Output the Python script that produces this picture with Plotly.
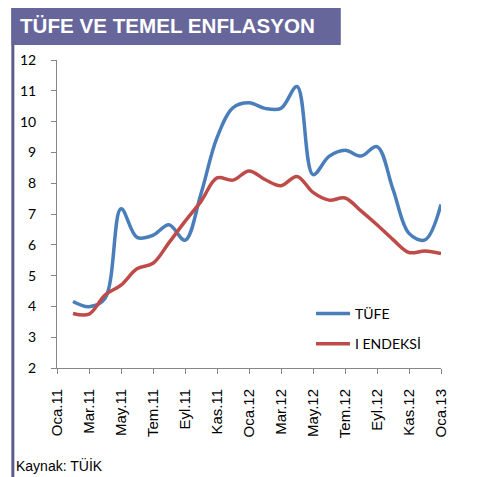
import plotly.graph_objects as go

months = ["Oca.11", "Şub.11", "Mar.11", "Nis.11", "May.11", "Haz.11", "Tem.11", "Ağu.11",
          "Eyl.11", "Eki.11", "Kas.11", "Ara.11", "Oca.12", "Şub.12", "Mar.12", "Nis.12",
          "May.12", "Haz.12", "Tem.12", "Ağu.12", "Eyl.12", "Eki.12", "Kas.12", "Ara.12",
          "Oca.13"]
tufe = [None, 4.16, 3.99, 4.26, 7.17, 6.24, 6.31, 6.65, 6.15, 7.66, 9.48, 10.45, 10.61,
        10.43, 10.43, 11.14, 8.28, 8.87, 9.07, 8.88, 9.19, 7.80, 6.37, 6.16, 7.31]
i_endeksi = [None, 3.77, 3.75, 4.37, 4.69, 5.22, 5.40, 6.07, 6.76, 7.41, 8.17, 8.10, 8.40,
             8.12, 7.92, 8.22, 7.70, 7.45, 7.52, 7.10, 6.65, 6.17, 5.75, 5.80, 5.72]

# page body has an 8px margin, so the figure is drawn 8px in from the window corner
OFF = 8
W, H = 482 - OFF, 477 - OFF
L, R, T, B = 54 - OFF, 41, 60 - OFF, 109
pw, ph = W - L - R, H - T - B


def px(x):
    return (x - OFF - L) / pw


def py(y):
    return (H - B - (y - OFF)) / ph


fig = go.Figure()
fig.add_trace(go.Scatter(x=months, y=tufe, name="TÜFE", mode="lines",
                         line=dict(color="#4A7EBB", width=3.5, shape="spline", smoothing=1),
                         legendgroup="a"))
fig.add_trace(go.Scatter(x=months, y=i_endeksi, name="I ENDEKSİ", mode="lines",
                         line=dict(color="#BE4B48", width=3.5, shape="spline", smoothing=1),
                         legendgroup="b"))

purple = "#67669A"
fig.add_shape(type="line", xref="paper", yref="paper", x0=px(9.5), x1=px(9.5), y0=py(7), y1=py(480),
              line=dict(color="#5F5A8E", width=3))
fig.add_shape(type="line", xref="paper", yref="paper", x0=px(8), x1=px(490), y0=py(7), y1=py(7),
              line=dict(color="#5F5A8E", width=2))
fig.add_shape(type="rect", xref="paper", yref="paper", x0=px(8), x1=px(340), y0=py(6), y1=py(45),
              fillcolor=purple, line=dict(width=0))
fig.add_annotation(xref="paper", yref="paper", x=px(15), y=py(26), xanchor="left", yanchor="middle",
                   text="<b>TÜFE VE TEMEL ENFLASYON</b>", showarrow=False,
                   font=dict(family="Liberation Sans", size=20.6, color="white"))
fig.add_annotation(xref="paper", yref="paper", x=px(11), y=py(465), xanchor="left", yanchor="middle",
                   text="Kaynak: TÜİK", showarrow=False,
                   font=dict(family="Liberation Sans", size=14, color="black"))

fig.update_layout(
    width=W, height=H,
    margin=dict(l=L, r=R, t=T, b=B),
    paper_bgcolor="white", plot_bgcolor="white",
    legend=dict(x=px(310), y=py(298), xanchor="left", yanchor="top",
                font=dict(family="Lato", size=14, color="black"),
                bgcolor="rgba(0,0,0,0)", tracegroupgap=9, traceorder="grouped",
                itemwidth=34),
    xaxis=dict(type="category", categoryorder="array", categoryarray=months, range=[0, 24],
               dtick=2, tickangle=-90, showgrid=False, zeroline=False,
               showline=True, linecolor="#868686", linewidth=1,
               ticks="outside", ticklen=5, tickcolor="#868686", ticklabelstandoff=9,
               tickfont=dict(family="Liberation Sans", size=15, color="black")),
    yaxis=dict(range=[2, 12], dtick=1, showgrid=False, zeroline=False,
               showline=True, linecolor="#868686", linewidth=1,
               ticks="outside", ticklen=5, tickcolor="#868686", ticklabelstandoff=12,
               tickfont=dict(family="Lato", size=14, color="black")),
)

fig.write_html("out.html")
